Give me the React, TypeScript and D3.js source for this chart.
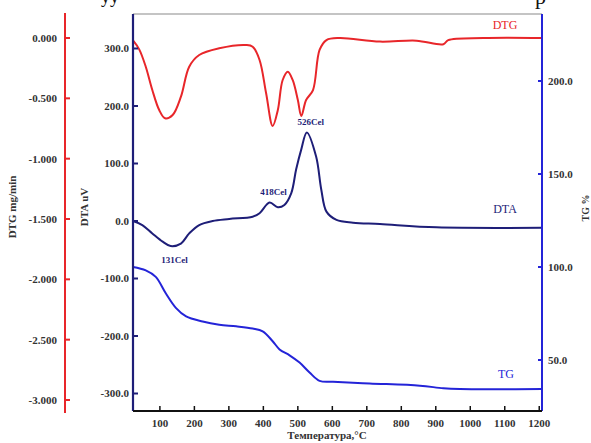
import React from "react";
import * as d3 from "d3";

// temperature (°C) for each curve
const dtgTemp = [22, 40, 59, 78, 98, 115, 137, 161, 185, 214, 272, 350, 369, 389, 408, 427, 442, 456, 471, 485, 500, 510, 524, 544, 563, 583, 621, 738, 844, 922, 936, 1038, 1208];
const dtgValue = [-0.02, -0.094, -0.238, -0.431, -0.597, -0.665, -0.638, -0.486, -0.238, -0.141, -0.085, -0.058, -0.072, -0.182, -0.458, -0.729, -0.597, -0.348, -0.279, -0.348, -0.514, -0.646, -0.514, -0.431, -0.099, -0.017, 0, -0.03, -0.022, -0.052, -0.017, 0, 0];

const dtaTemp = [22, 49, 78, 108, 131, 161, 185, 214, 253, 301, 369, 389, 418, 442, 461, 481, 495, 510, 526, 553, 568, 583, 612, 660, 738, 902, 1208];
const dtaValue = [0, -7, -21.6, -36, -43.5, -39.2, -21.6, -7, 0, 3.5, 7.5, 13.5, 32, 24, 28, 48.6, 89.5, 124.6, 154, 112, 54.4, 16.3, 1.8, -3, -5.3, -11, -11.8];

const tgTemp = [22, 59, 88, 117, 147, 176, 224, 272, 321, 369, 398, 427, 447, 476, 505, 534, 563, 602, 708, 854, 922, 970, 1208];
const tgValue = [100, 98.2, 94.7, 85.9, 77.9, 73.4, 70.7, 69.0, 68.1, 66.9, 65.4, 60.1, 55.7, 52.5, 48.6, 43.3, 38.8, 38.3, 37.4, 36.2, 34.8, 34.4, 34.4];

const xTicks = [100, 200, 300, 400, 500, 600, 700, 800, 900, 1000, 1100, 1200];
const dtgTicks = [0, -0.5, -1, -1.5, -2, -2.5, -3];
const dtaTicks = [300, 200, 100, 0, -100, -200, -300];
const tgTicks = [200, 150, 100, 50];

const peakLabels = [
  { t: 131, v: -43.5, text: "131Cel", dy: 17 },
  { t: 418, v: 32, text: "418Cel", dy: -8 },
  { t: 526, v: 154, text: "526Cel", dy: -7 },
];

const RED = "#e8262a";
const NAVY = "#1e1e78";
const BLUE = "#2424d8";
const FONT = "'Liberation Serif', 'Times New Roman', serif";

export default function App() {
  const width = 591;
  const height = 443;
  const left = 133;
  const right = 542;
  const top = 14;
  const bottom = 411;

  const x = d3.scaleLinear().domain([22, 1208]).range([left, right]);
  const yDta = d3.scaleLinear().domain([0, 300]).range([221, 48.5]);
  const yDtg = d3.scaleLinear().domain([0, -3]).range([38, 400]);
  const yTg = d3.scaleLinear().domain([100, 50]).range([267, 360]);

  const mk = (ts: number[], vs: number[], y: d3.ScaleLinear<number, number>) =>
    d3
      .line<number>()
      .x((_, i) => x(ts[i]))
      .y((v) => y(v))
      .curve(d3.curveCatmullRom.alpha(0.5))(vs) as string;

  const redAxisX = 65;

  return (
    <svg
      width={width}
      height={height}
      style={{ position: "absolute", left: 0, top: 0, background: "#fff" }}
      fontFamily={FONT}
    >
      {/* cut-off text from the line above */}
      <text x={101} y={3} fontSize={18} fill="#111">уу</text>
      <text x={535} y={4} fontSize={22} fill="#111">р</text>

      {/* frame top */}
      <line x1={left} x2={right} y1={top} y2={top} stroke="#b0b0b0" strokeWidth={1.5} />

      {/* curves */}
      <path d={mk(dtgTemp, dtgValue, yDtg)} fill="none" stroke={RED} strokeWidth={2} />
      <path d={mk(dtaTemp, dtaValue, yDta)} fill="none" stroke={NAVY} strokeWidth={2} />
      <path d={mk(tgTemp, tgValue, yTg)} fill="none" stroke={BLUE} strokeWidth={2} />

      {/* DTG axis (red, far left) */}
      <line x1={redAxisX} x2={redAxisX} y1={13} y2={413} stroke={RED} strokeWidth={2} />
      {dtgTicks.map((t) => (
        <g key={t} transform={`translate(${redAxisX},${yDtg(t)})`}>
          <line x1={0} x2={5} stroke={RED} strokeWidth={2} />
          <text x={-8} dy="0.35em" textAnchor="end" fontSize={11} fontWeight="bold" fill="#333">
            {t.toFixed(3)}
          </text>
        </g>
      ))}
      <text
        transform={`translate(16,207) rotate(-90)`}
        textAnchor="middle"
        fontSize={11}
        fontWeight="bold"
        fill="#333"
      >
        DTG mg/min
      </text>

      {/* DTA axis (navy, left of plot) */}
      <line x1={left} x2={left} y1={top} y2={bottom} stroke={NAVY} strokeWidth={2.2} />
      {dtaTicks.map((t) => (
        <g key={t} transform={`translate(${left},${yDta(t)})`}>
          <line x1={0} x2={5} stroke={NAVY} strokeWidth={2} />
          <text x={-4} dy="0.35em" textAnchor="end" fontSize={11} fontWeight="bold" fill="#333">
            {t.toFixed(1)}
          </text>
        </g>
      ))}
      <text
        transform={`translate(88,207) rotate(-90)`}
        textAnchor="middle"
        fontSize={11}
        fontWeight="bold"
        fill="#333"
      >
        DTA uV
      </text>

      {/* TG axis (blue, right) */}
      <line x1={right} x2={right} y1={top} y2={bottom} stroke={BLUE} strokeWidth={2} />
      {tgTicks.map((t) => (
        <g key={t} transform={`translate(${right},${yTg(t)})`}>
          <line x1={-4} x2={0} stroke={BLUE} strokeWidth={2} />
          <text x={6} dy="0.35em" textAnchor="start" fontSize={11} fontWeight="bold" fill="#333">
            {t.toFixed(1)}
          </text>
        </g>
      ))}
      <text
        transform={`translate(589,208) rotate(-90)`}
        textAnchor="middle"
        fontSize={10}
        fontWeight="bold"
        fill="#333"
      >
        TG %
      </text>

      {/* temperature axis */}
      <line x1={left} x2={right} y1={bottom} y2={bottom} stroke="#111" strokeWidth={2} />
      {xTicks.map((t) => (
        <g key={t} transform={`translate(${x(t)},${bottom})`}>
          <line y1={0} y2={-5} stroke="#111" strokeWidth={1.5} />
          <text y={16} textAnchor="middle" fontSize={11} fontWeight="bold" fill="#333">
            {t}
          </text>
        </g>
      ))}
      <text x={327} y={439} textAnchor="middle" fontSize={11} fontWeight="bold" fill="#333">
        Температура,°C
      </text>

      {/* curve names */}
      <text x={505} y={29} textAnchor="middle" fontSize={12} fill={RED}>DTG</text>
      <text x={505} y={213} textAnchor="middle" fontSize={12} fill={NAVY}>DTA</text>
      <text x={506} y={378} textAnchor="middle" fontSize={12} fill={BLUE}>TG</text>

      {/* peak labels */}
      {peakLabels.map((p) => (
        <text
          key={p.text}
          x={x(p.t) + 4}
          y={yDta(p.v) + p.dy}
          textAnchor="middle"
          fontSize={9}
          fontWeight="bold"
          fill={NAVY}
        >
          {p.text}
        </text>
      ))}
    </svg>
  );
}
